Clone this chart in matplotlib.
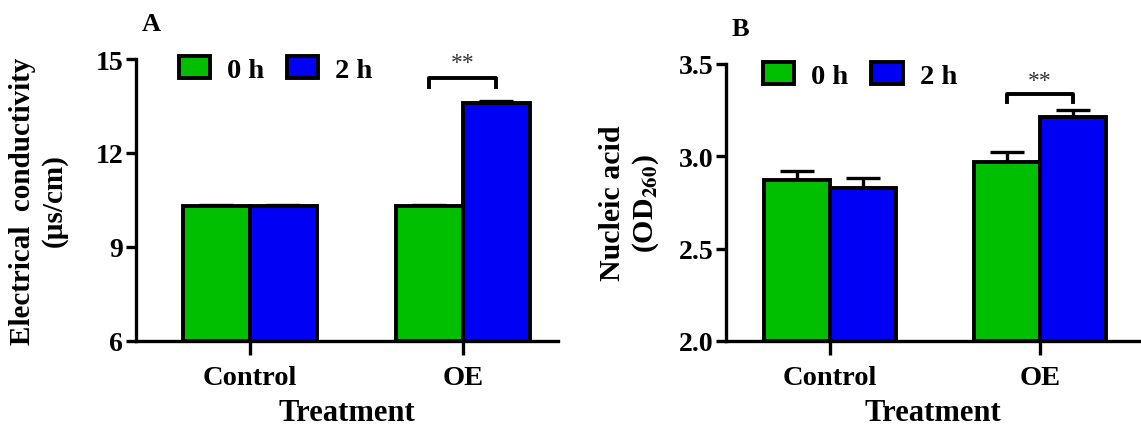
import numpy as np
import matplotlib
matplotlib.use("Agg")
import matplotlib.pyplot as plt
from matplotlib.patches import Patch

plt.rcParams.update({
    "font.family": "Liberation Serif",
    "font.weight": "bold",
    "axes.labelweight": "bold",
    "mathtext.fontset": "stix",
    "axes.linewidth": 2.4,
})

groups = ["Control", "OE"]
series = ["0 h", "2 h"]
colors = ["#00bf00", "#0000f5"]

ec_mean = [[10.3, 10.3], [10.3, 13.6]]      # [group][series]
ec_err = [[0.05, 0.05], [0.05, 0.05]]
na_mean = [[2.87, 2.83], [2.97, 3.21]]
na_err = [[0.05, 0.05], [0.05, 0.04]]


def panel(ax, means, errs, ylim, yticks, ticklabels, ylabel, lab_fs, lab_x,
          letter, sig_y, sig_h, xlim, leg_x):
    x = np.arange(len(groups))
    w = 0.315
    for j, s in enumerate(series):
        pos = x + (j - 0.5) * w
        vals = [means[i][j] for i in range(len(groups))]
        err = [errs[i][j] for i in range(len(groups))]
        ax.bar(pos, np.array(vals) - ylim[0], w, bottom=ylim[0], color=colors[j],
               edgecolor="black", linewidth=2.8, zorder=3)
        ax.errorbar(pos, vals, yerr=[np.zeros(len(err)), err], fmt="none",
                    ecolor="black", elinewidth=2.4, capsize=12, capthick=2.4, zorder=2)

    ax.set_xlim(*xlim)
    ax.set_ylim(*ylim)
    ax.set_yticks(yticks)
    ax.set_yticklabels(ticklabels, fontsize=20)
    ax.set_xticks(x)
    ax.set_xticklabels(groups, fontsize=20.5)
    ax.tick_params(axis="x", length=10, width=2.4, direction="out", pad=7)
    ax.tick_params(axis="y", length=7, width=2.4, direction="out", pad=2)
    ax.spines["top"].set_visible(False)
    ax.spines["right"].set_visible(False)
    ax.set_xlabel("Treatment", fontsize=22, labelpad=6)
    ax.set_ylabel(ylabel, fontsize=lab_fs, linespacing=1.2)
    ax.yaxis.set_label_coords(lab_x, 0.5)

    # significance bracket over OE
    x0, x1 = 1 - w / 2, 1 + w / 2
    ax.plot([x0, x0, x1, x1], [sig_y - sig_h, sig_y, sig_y, sig_y - sig_h],
            color="black", lw=2.8, clip_on=False, zorder=4)
    ax.text(1, sig_y + sig_h * 0.5, "**", ha="center", va="bottom", fontsize=17,
            fontweight="normal", color="#333333")

    ax.text(0.015, 1.085, letter, transform=ax.transAxes, fontsize=19,
            ha="left", va="bottom")

    handles = [Patch(facecolor=c, edgecolor="black", linewidth=2.8) for c in colors]
    ax.legend(handles, series, loc="upper left", bbox_to_anchor=(leg_x, 1.1),
              ncol=2, frameon=False, fontsize=20.5, handlelength=1.1,
              handleheight=0.8, handletextpad=0.6, columnspacing=0.8)


fig = plt.figure(figsize=(11.41, 4.35), dpi=100)
ax1 = fig.add_axes([0.119, 0.214, 0.370, 0.648])
ax2 = fig.add_axes([0.636, 0.214, 0.364, 0.637])

panel(ax1, ec_mean, ec_err, (6, 15), [6, 9, 12, 15], ["6", "9", "12", "15"],
      "Electrical  conductivity\n(\u00b5s/cm)", 21, -0.161,
      "A", 14.4, 0.3, (-0.535, 1.446), 0.041)
panel(ax2, na_mean, na_err, (2.0, 3.5), [2.0, 2.5, 3.0, 3.5],
      ["2.0", "2.5", "3.0", "3.5"],
      "Nucleic acid\n(OD$_{\\mathbf{260}}$)", 21.5, -0.155,
      "B", 3.335, 0.04, (-0.495, 1.48), 0.028)

fig.savefig("out.png", dpi=100)
